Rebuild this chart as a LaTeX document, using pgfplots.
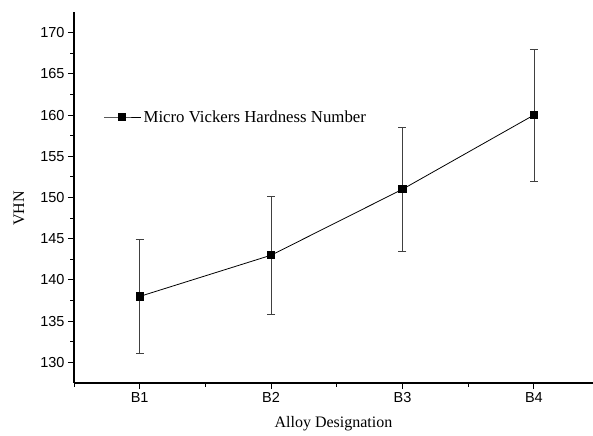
\documentclass[border=0pt]{standalone}
\usepackage{fontspec}
\setmainfont{Liberation Serif}
\setsansfont{Liberation Sans}
\usepackage{pgfplots}
\pgfplotsset{compat=1.18}

\begin{document}
\begin{tikzpicture}
\useasboundingbox (-74bp,-53bp) rectangle (519bp,383bp);
\begin{axis}[
  at={(0,0)}, anchor=south west,
  scale only axis,
  width=519bp, height=371bp,
  axis lines*=left,
  axis line style={line width=1.1pt},
  xmin=0.5, xmax=4.45,
  ymin=127.5, ymax=172.5,
  xtick={1,2,3,4},
  xticklabels={B1,B2,B3,B4},
  minor xtick={0.5,1.5,2.5,3.5},
  ytick={130,135,...,170},
  minor y tick num=1,
  tick align=outside,
  major tick length=6bp,
  minor tick length=3.5bp,
  tick style={line width=0.9pt, black},
  /pgf/number format/assume math mode=true,
  tick label style={font=\sffamily\fontsize{14.5bp}{16bp}\selectfont},
  label style={font=\fontsize{16bp}{18bp}\selectfont},
  xlabel={Alloy Designation},
  ylabel={VHN},
  xlabel style={at={(0.5,0)}, anchor=north, yshift=-30bp},
  ylabel style={at={(0,0.47)}, anchor=center, yshift=55bp},
  legend style={at={(0.057,0.717)}, anchor=west, draw=none, fill=none,
    inner sep=0pt, font=\fontsize{16.8bp}{18bp}\selectfont},
  legend cell align=left,
  legend image code/.code={%
    \draw[mark repeat=2,mark phase=2] plot coordinates {(0bp,0bp) (18bp,0bp) (37bp,0bp)};},
  error bars/y dir=both,
  error bars/y explicit,
  error bars/error bar style={line width=0.7pt, black!75},
  error bars/error mark options={rotate=90, mark size=4bp, line width=0.7pt, black!75},
]
\addplot[black, line width=0.8pt, mark=square*, mark size=3.6bp,
  mark options={solid, fill=black}] coordinates {
  (1,138) +- (0,6.9)
  (2,143) +- (0,7.15)
  (3,151) +- (0,7.55)
  (4,160) +- (0,8)
};
\legend{Micro Vickers Hardness Number}
\end{axis}
\end{tikzpicture}
\end{document}
